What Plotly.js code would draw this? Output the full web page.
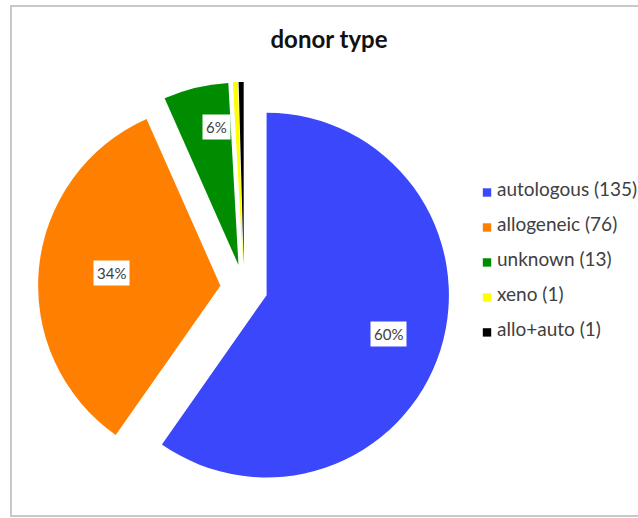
<!DOCTYPE html>
<html>
<head>
<meta charset="utf-8">
<script src="https://cdn.plot.ly/plotly-3.0.1.min.js"></script>
<style>
html,body{margin:0;padding:0;background:#fff;}
#chart{width:638px;height:518px;}
.legend path.legendpie{transform:translate(30px,0px) scale(0.7);}
</style>
</head>
<body>
<div id="chart"></div>
<script>
// ---- data ----
var categories = ["autologous", "allogeneic", "unknown", "xeno", "allo+auto"];
var counts = [135, 76, 13, 1, 1];
var colors = ["#3B47FB", "#FF7F00", "#008C00", "#FFFF00", "#000000"];
var chartTitle = "donor type";

// ---- derived ----
var total = counts.reduce(function(a, b){ return a + b; }, 0);
var legendLabels = categories.map(function(c, i){
  return "<br><span style='font-size:19px'>" + c + " (" + counts[i] + ")</span><br>";
});

var W = 638, H = 518;
var PULL = 0.13;
var dom = {x: [38 / W, 450 / W], y: [1 - 494 / H, 1 - 82 / H]};

// pie geometry in pixels, same rule Plotly uses
var boxW = (dom.x[1] - dom.x[0]) * W, boxH = (dom.y[1] - dom.y[0]) * H;
var R = Math.min(boxW, boxH) / (2 + 2 * PULL);
var cx = (dom.x[0] + dom.x[1]) / 2 * W;
var cy = (1 - (dom.y[0] + dom.y[1]) / 2) * H;

var annotations = [];
var acc = 0;
counts.forEach(function(v, i){
  var frac = v / total;
  var mid = (acc + frac / 2) * 2 * Math.PI;
  acc += frac;
  var pct = Math.round(frac * 100);
  if (pct < 1) return;
  var dx = Math.sin(mid), dy = -Math.cos(mid);
  var k = frac > 0.1 ? 0.7 : 0.85;
  var px = cx + (PULL * R + k * R) * dx;
  var py = cy + (PULL * R + k * R) * dy;
  annotations.push({
    x: px / W, y: 1 - py / H, xref: "paper", yref: "paper",
    text: pct + "%", showarrow: false,
    font: {family: "Lato, 'Open Sans', sans-serif", size: 15, color: "#404040"},
    bgcolor: "#ffffff", borderpad: 3
  });
});

var trace = {
  type: "pie",
  labels: legendLabels,
  values: counts,
  marker: {colors: colors, line: {width: 0}},
  sort: false,
  direction: "clockwise",
  rotation: 0,
  pull: PULL,
  textinfo: "none",
  hoverinfo: "none",
  domain: dom
};

var layout = {
  width: W, height: H,
  margin: {l: 0, r: 0, t: 0, b: 0, autoexpand: false},
  paper_bgcolor: "#ffffff",
  font: {family: "Lato, 'Open Sans', sans-serif", color: "#404040"},
  title: {
    text: "<b>" + chartTitle + "</b>",
    x: 329 / W, xanchor: "center",
    y: 1 - 40 / H, yanchor: "middle",
    font: {family: "Lato, 'Open Sans', sans-serif", size: 24, color: "#111111"}
  },
  showlegend: true,
  legend: {
    x: 457 / W, xanchor: "left",
    y: 1 - 170 / H, yanchor: "top",
    font: {size: 8.2, color: "#404040"},
    bgcolor: "rgba(0,0,0,0)"
  },
  annotations: annotations,
  shapes: [{
    type: "rect", xref: "paper", yref: "paper",
    x0: 11 / W, x1: 1.3, y0: 1 - 516 / H, y1: 1 - 6 / H,
    line: {color: "#c8c8c8", width: 2}, fillcolor: "rgba(0,0,0,0)", layer: "below"
  }]
};

Plotly.newPlot("chart", [trace], layout, {displayModeBar: false, staticPlot: true});
</script>
</body>
</html>
